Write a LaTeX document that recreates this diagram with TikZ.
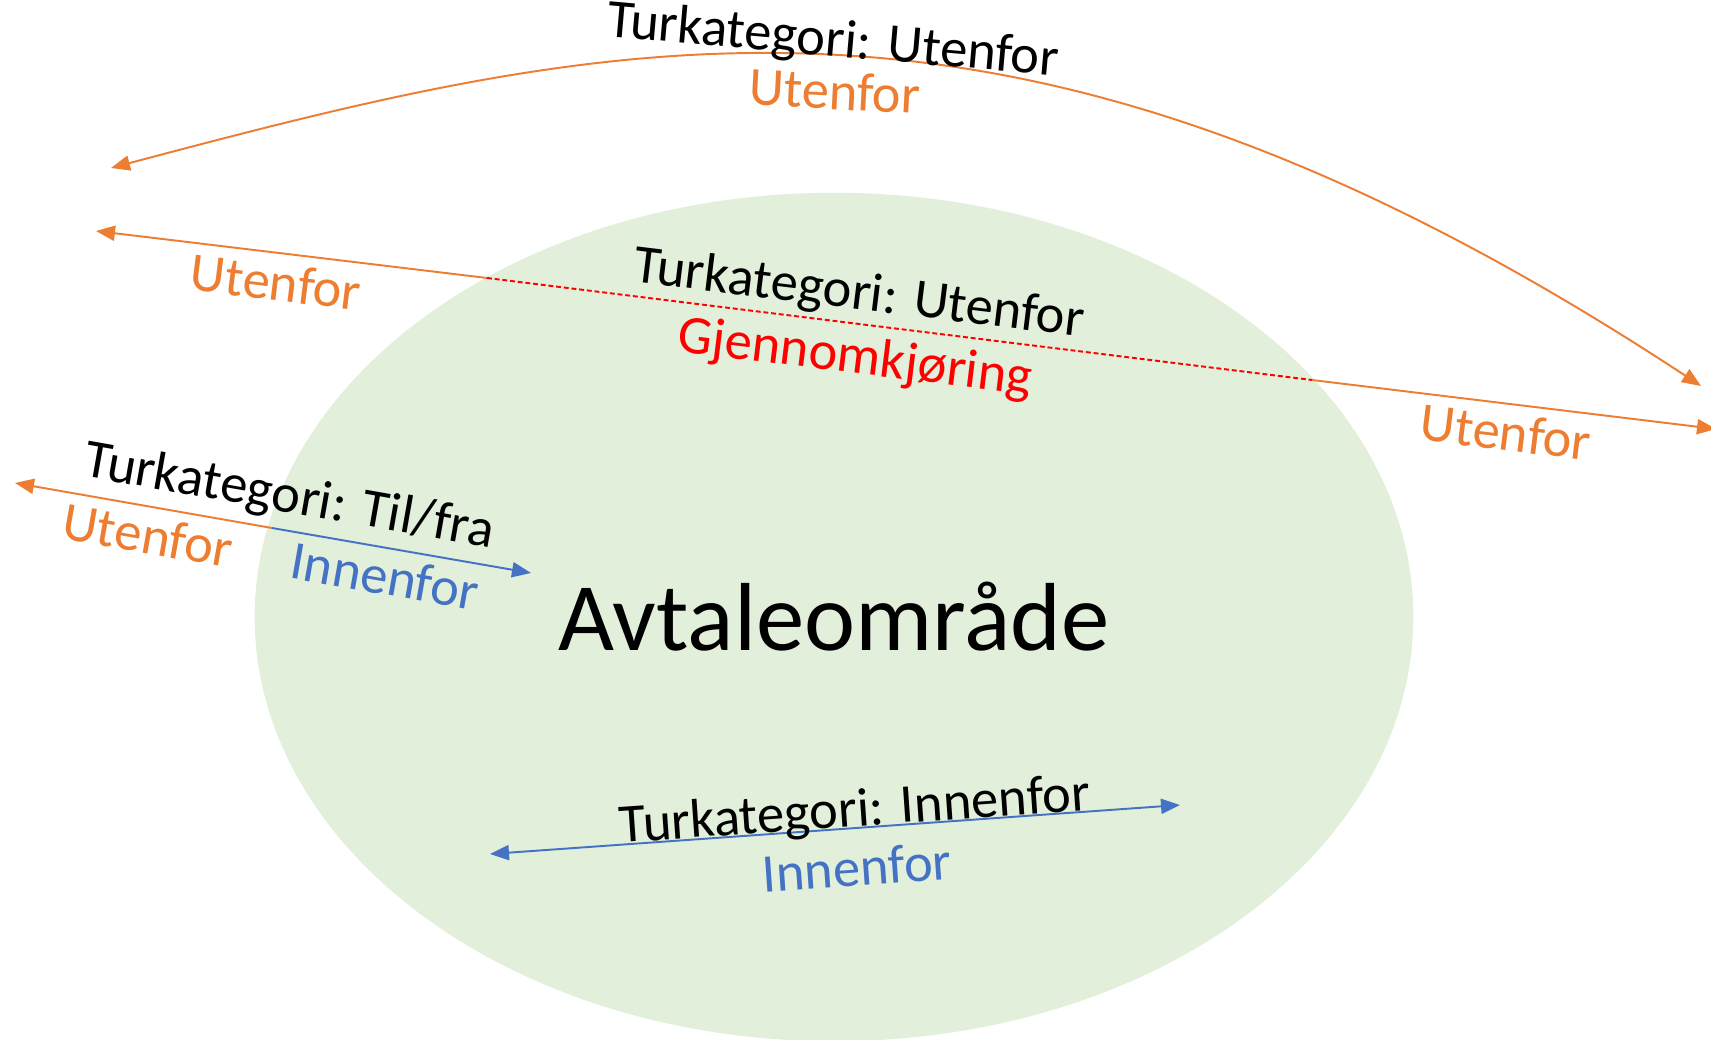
\documentclass[tikz,border=0pt]{standalone}
\usepackage{fontspec}
\setmainfont{Carlito}
\usetikzlibrary{arrows.meta,shapes.geometric}
\definecolor{utenfor}{HTML}{ED7D31}
\definecolor{innenfor}{HTML}{4472C4}
\definecolor{omraadegrnn}{HTML}{E2EFDA}
\begin{document}
\begin{tikzpicture}[x=0.01cm,y=-0.01cm]
\tikzset{
  lbl/.style={inner sep=0pt, font=\fontsize{15.5}{18}\selectfont},
  pil/.style={line width=0.55pt, -{Triangle[length=5.4pt,width=4.3pt]}},
  dobbelpil/.style={line width=0.55pt, {Triangle[length=5.4pt,width=4.3pt]}-{Triangle[length=5.4pt,width=4.3pt]}},
  gjennom/.style={red, line width=0.55pt, dash pattern=on 1.4pt off 0.8pt}
}
\path[use as bounding box] (0,0) rectangle (1711,1040);
\node (omraade) [ellipse, fill=omraadegrnn, minimum width=11.58cm, minimum height=8.48cm, inner sep=0pt, font=\fontsize{27.5}{32}\selectfont] at (834,617) {Avtaleområde};

\coordinate (bueH) at (1701,386);
\coordinate (bueV) at (111,168);
\draw [dobbelpil, utenfor] (bueH) .. controls (1020,-62) and (630,30) .. (bueV);
\node (bueKat) [lbl, rotate=-5] at (833,42) {Turkategori: Utenfor};
\node (bueUt) [lbl, utenfor, rotate=-3] at (835,91) {Utenfor};

\coordinate (gjV) at (96,231);
\coordinate (gjA) at (487,278);
\coordinate (gjB) at (1312,380);
\coordinate (gjH) at (1716,429);
\draw [pil, utenfor] (gjA) -- (gjV);
\draw [gjennom] (gjA) -- (gjB);
\draw [pil, utenfor] (gjB) -- (gjH);
\node (gjUtV) [lbl, utenfor, rotate=-7] at (276,282) {Utenfor};
\node (gjKat) [lbl, rotate=-7] at (859,295) {Turkategori: Utenfor};
\node (gjTekst) [lbl, red, rotate=-7] at (855,359) {Gjennomkjøring};
\node (gjUtH) [lbl, utenfor, rotate=-7] at (1506,432) {Utenfor};

\coordinate (tfV) at (15,483);
\coordinate (tfC) at (272,528);
\coordinate (tfH) at (531,573);
\draw [pil, utenfor] (tfC) -- (tfV);
\draw [pil, innenfor] (tfC) -- (tfH);
\node (tfKat) [lbl, rotate=-10] at (289,498) {Turkategori: Til/fra};
\node (tfUt) [lbl, utenfor, rotate=-10] at (148,535) {Utenfor};
\node (tfInn) [lbl, innenfor, rotate=-10] at (385,576) {Innenfor};

\coordinate (innV) at (490,854);
\coordinate (innH) at (1180,805);
\draw [dobbelpil, innenfor] (innV) -- (innH);
\node (innKat) [lbl, rotate=4] at (855,812) {Turkategori: Innenfor};
\node (innTekst) [lbl, innenfor, rotate=4] at (857,867) {Innenfor};
\end{tikzpicture}
\end{document}
